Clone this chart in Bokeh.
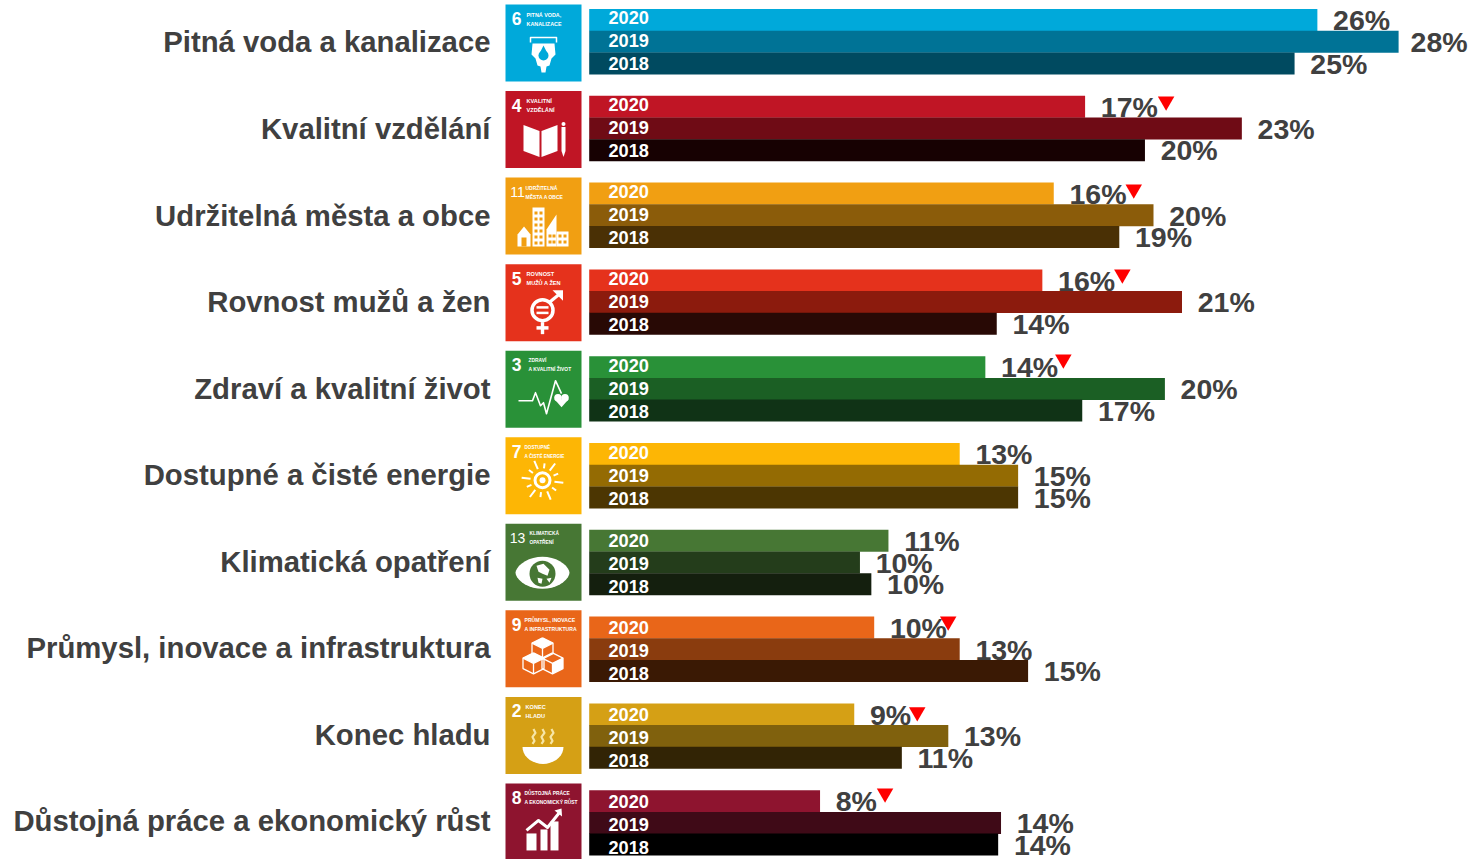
import math
from bokeh.plotting import figure
from bokeh.models import Range1d
from bokeh.core.properties import value
from bokeh.embed import file_html
from bokeh.resources import INLINE

categories = ["Pitná voda a kanalizace", "Kvalitní vzdělání", "Udržitelná města a obce",
              "Rovnost mužů a žen", "Zdraví a kvalitní život", "Dostupné a čisté energie",
              "Klimatická opatření", "Průmysl, inovace a infrastruktura", "Konec hladu",
              "Důstojná práce a ekonomický růst"]
years = ["2020", "2019", "2018"]
values_2020 = [25.55, 17.4, 16.3, 15.9, 13.9, 13.0, 10.5, 10.0, 9.3, 8.1]
values_2019 = [28.4, 22.9, 19.8, 20.8, 20.2, 15.05, 9.5, 13.0, 12.6, 14.45]
values_2018 = [24.75, 19.5, 18.6, 14.3, 17.3, 15.05, 9.9, 15.4, 10.97, 14.35]
labels_2020 = ["26%", "17%", "16%", "16%", "14%", "13%", "11%", "10%", "9%", "8%"]
labels_2019 = ["28%", "23%", "20%", "21%", "20%", "15%", "10%", "13%", "13%", "14%"]
labels_2018 = ["25%", "20%", "19%", "14%", "17%", "15%", "10%", "15%", "11%", "14%"]
decline_2020 = [False, True, True, True, True, False, False, True, True, True]
colors_2020 = ["#00A9DA", "#C01525", "#F19F12", "#E5321C", "#299138", "#FDB605", "#477734", "#E96619", "#D5A015", "#8E142F"]
colors_2019 = ["#007396", "#6F0B15", "#8B5C0A", "#8C1B0D", "#1B5F24", "#946B03", "#243D1B", "#8A3C0E", "#80610D", "#3F0A17"]
colors_2018 = ["#004A60", "#170102", "#4A3005", "#280905", "#103316", "#4C3602", "#141F0E", "#3A1904", "#322405", "#000000"]
icon_numbers = ["6", "4", "11", "5", "3", "7", "13", "9", "2", "8"]
icon_line1 = ["PITNÁ VODA,", "KVALITNÍ", "UDRŽITELNÁ", "ROVNOST", "ZDRAVÍ", "DOSTUPNÉ", "KLIMATICKÁ", "PRŮMYSL, INOVACE", "KONEC", "DŮSTOJNÁ PRÁCE"]
icon_line2 = ["KANALIZACE", "VZDĚLÁNÍ", "MĚSTA A OBCE", "MUŽŮ A ŽEN", "A KVALITNÍ ŽIVOT", "A ČISTÉ ENERGIE", "OPATŘENÍ", "A INFRASTRUKTURA", "HLADU", "A EKONOMICKÝ RŮST"]

# layout in pixels
W, H = 1468, 859
X0, PX = 588.7, 28.5        # px of 0 %, px per 1 %
ROW0, ROWH = 41.2, 86.8     # px of first row centre, px per row
ICON_X, ICON_Y0, ICON_STEP, ICON_W, ICON_H = 505, 4, 86.55, 76, 77
GREY = "#404040"

p = figure(width=W, height=H, output_backend="svg", toolbar_location=None,
           x_axis_location=None, y_axis_location=None, min_border=0,
           x_range=Range1d(-X0 / PX, (W - X0) / PX),
           y_range=Range1d((H - ROW0) / ROWH, -ROW0 / ROWH),
           outline_line_color=None, background_fill_color="white")
p.grid.visible = False
p.extra_x_ranges = {"px": Range1d(0, W)}
p.extra_y_ranges = {"px": Range1d(H, 0)}
p.styles = {"position": "absolute", "left": "0px", "top": "0px"}

rows = list(range(len(categories)))
series = [(values_2020, labels_2020, colors_2020, -0.25),
          (values_2019, labels_2019, colors_2019, 0.0),
          (values_2018, labels_2018, colors_2018, 0.25)]

# value labels go first: the bars cover them where they overlap
for vals, labs, cols, off in series:
    gaps = [12 if l == "28%" else 15.7 for l in labs]
    p.text(x=vals, y=[r + off for r in rows], text=labs, x_offset=gaps, y_offset=0.2,
           text_font=value("Liberation Sans"), text_font_style="bold",
           text_font_size="28.5px", text_color=GREY, text_align="left", text_baseline="middle")

for vals, labs, cols, off in series:
    p.hbar(y=[r + off for r in rows], left=0, right=vals, height=0.254, color=cols, line_color=None)

year_tops = [16.6, 39.6, 62.6]
for top, yr in zip(year_tops, years):
    p.text(x=[608] * len(rows), y=[top + 87.15 * r for r in rows], text=[yr] * len(rows),
           x_range_name="px", y_range_name="px",
           text_font=value("Liberation Sans"), text_font_style="bold", text_font_size="18.2px",
           text_color="white", text_align="left", text_baseline="middle")

p.text(x=[490] * len(rows), y=[41.4 + ICON_STEP * r for r in rows], text=categories,
       x_range_name="px", y_range_name="px",
       text_font=value("Liberation Sans"), text_font_style="bold", text_font_size="29.3px",
       text_color=GREY, text_align="right", text_baseline="middle")

# decline markers
tri_rows = [r for r in rows if decline_2020[r]]
tri_gap = {1: 81, 2: 80, 3: 80, 4: 78, 7: 74, 8: 63, 9: 65}
tri_top = {1: 96, 2: 184, 3: 269, 4: 354, 7: 616, 8: 706.7, 9: 788}
p.scatter(x=[values_2020[r] + tri_gap[r] / PX for r in tri_rows], y=[tri_top[r] + 4.76 for r in tri_rows],
          y_range_name="px", marker="inverted_triangle", size=16.5, color="#FF0000", line_color=None)


# ---- icons: square, number, caption, pictogram ----
def ox(r, u): return ICON_X + u
def oy(r, v): return ICON_Y0 + ICON_STEP * r + v


def poly(r, xs, ys, c="white"):
    p.patch([ox(r, u) for u in xs], [oy(r, v) for v in ys], color=c, line_color=None,
            x_range_name="px", y_range_name="px")


def box(r, u0, v0, u1, v1, c="white"):
    poly(r, [u0, u1, u1, u0], [v0, v0, v1, v1], c)


def path(r, xs, ys, w=2.0, c="white"):
    p.line([ox(r, u) for u in xs], [oy(r, v) for v in ys], line_color=c, line_width=w,
           x_range_name="px", y_range_name="px", line_join="round")


def disc(r, u, v, rad, c="white"):
    p.scatter([ox(r, u)], [oy(r, v)], size=2 * rad, color=c, line_color=None,
              x_range_name="px", y_range_name="px")


def ring(r, u, v, rad, w, c="white"):
    p.scatter([ox(r, u)], [oy(r, v)], size=2 * rad, fill_alpha=0, line_color=c, line_width=w,
              x_range_name="px", y_range_name="px")


for r in rows:
    box(r, 0, 0, ICON_W, ICON_H, colors_2020[r])

cap_x = [21, 21, 20, 21, 23, 19, 24, 19, 20, 19]
cap_size = [5.4, 5.6, 5.0, 5.6, 4.9, 4.6, 4.8, 5.1, 5.6, 4.9]
for r in rows:
    wide = len(icon_numbers[r]) > 1
    p.text([ox(r, 12 if wide else 11)], [oy(r, 14)], text=[icon_numbers[r]], x_range_name="px", y_range_name="px",
           text_font=value("Liberation Sans"), text_font_style="normal" if wide else "bold",
           text_font_size="14px" if wide else "17.5px", text_color="white",
           text_align="center", text_baseline="middle")
    p.text([ox(r, cap_x[r])], [oy(r, 10)], text=[icon_line1[r]], x_range_name="px", y_range_name="px",
           text_font=value("Liberation Sans"), text_font_style="bold", text_font_size=f"{cap_size[r]}px",
           text_color="white", text_align="left", text_baseline="middle")
    p.text([ox(r, cap_x[r])], [oy(r, 19)], text=[icon_line2[r]], x_range_name="px", y_range_name="px",
           text_font=value("Liberation Sans"), text_font_style="bold", text_font_size=f"{cap_size[r]}px",
           text_color="white", text_align="left", text_baseline="middle")

# 6: glass with drop
r = 0
path(r, [25, 25, 51, 51], [38, 33, 33, 38], 1.5)
poly(r, [27, 49, 50, 46, 44, 41, 40, 36, 35, 32, 30, 26],
     [39, 39, 50, 54, 61, 62, 68, 68, 62, 61, 54, 50])
disc(r, 38, 51, 5, colors_2020[r])
poly(r, [34, 38, 42], [49, 41, 49], colors_2020[r])

# 4: open book and pencil
r = 1
poly(r, [18, 34, 34, 18], [34, 40, 66, 60])
poly(r, [36, 52, 52, 36], [40, 34, 60, 66])
box(r, 56, 36, 60, 60)
disc(r, 58, 33, 2)
poly(r, [56, 60, 58], [60, 60, 66])

# 11: city
r = 2
poly(r, [12, 18.5, 25, 25, 12], [57, 49, 57, 69, 69])
box(r, 16, 60, 21, 69, colors_2020[r])
box(r, 27, 30, 39, 69)
for wy in [34, 40, 46, 52, 58, 64]:
    box(r, 29, wy, 32, wy + 3, colors_2020[r])
    box(r, 34, wy, 37, wy + 3, colors_2020[r])
poly(r, [41, 51, 51, 41], [52, 37, 69, 69])
box(r, 51, 54, 63, 69)
for wy in [57, 63]:
    for wx in [43, 47, 53, 58]:
        box(r, wx, wy, wx + 3, wy + 3, colors_2020[r])

# 5: gender equality
r = 3
ring(r, 37, 46, 10.5, 3.5)
box(r, 31, 42, 43, 44.5)
box(r, 31, 47.5, 43, 50)
box(r, 35.3, 58, 38.7, 70)
box(r, 31, 62, 43, 65.5)
path(r, [44, 55], [38, 29], 3.2)
poly(r, [47, 57.5, 57.5], [26, 26, 36.5])

# 3: heartbeat
r = 4
path(r, [13, 27, 30, 35, 38, 41, 50, 56], [50, 50, 42, 55, 52, 63, 30, 43], 1.6)
disc(r, 52.5, 47, 3.8)
disc(r, 59.5, 47, 3.8)
poly(r, [49, 63, 56], [48.5, 48.5, 56.5])

# 7: sun
r = 5
ring(r, 37, 43, 7.5, 3)
disc(r, 37, 43, 3)
for k in range(12):
    a = math.radians(30 * k + 7)
    a0, a1 = (12, 21) if k % 2 == 0 else (12, 17)
    path(r, [37 + a0 * math.cos(a), 37 + a1 * math.cos(a)], [43 + a0 * math.sin(a), 43 + a1 * math.sin(a)], 2.0)

# 13: eye and globe
r = 6
angles = list(range(0, 361, 10))
poly(r, [37 + 27 * math.cos(math.radians(a)) for a in angles],
     [49 + 16 * abs(math.sin(math.radians(a))) ** 1.2 * (1 if a <= 180 else -1) for a in angles])
disc(r, 37, 50, 13, colors_2020[r])
poly(r, [31, 38, 44, 42, 37, 33], [42, 40, 46, 52, 50, 48])
poly(r, [32, 37, 36, 33], [54, 55, 60, 59])
poly(r, [41, 46, 44], [55, 54, 59])

# 9: cubes
r = 7


def cube(r, cx, cy, s, fill_top=False, fill_right=False):
    h = s * 0.5
    xs = [cx, cx + s, cx + s, cx, cx - s, cx - s, cx]
    ys = [cy - s, cy - h, cy + h, cy + s, cy + h, cy - h, cy - s]
    if fill_top:
        poly(r, [cx, cx + s, cx, cx - s], [cy - s, cy - h, cy, cy - h])
    if fill_right:
        poly(r, [cx, cx + s, cx + s, cx], [cy, cy - h, cy + h, cy + s])
    path(r, xs, ys, 1.3)
    path(r, [cx - s, cx, cx + s], [cy - h, cy, cy - h], 1.3)
    path(r, [cx, cx], [cy, cy + s], 1.3)


cube(r, 37, 38, 10.5, fill_top=True)
cube(r, 28, 53, 10.5, fill_top=True)
cube(r, 47, 53, 10.5, fill_right=True)

# 2: bowl with steam
r = 8
arc = list(range(0, 181, 10))
poly(r, [37.5 + 20.5 * math.cos(math.radians(a)) for a in arc],
     [50 + 17 * math.sin(math.radians(a)) for a in arc])
for sx in [28, 37, 46]:
    path(r, [sx, sx + 2, sx - 1, sx + 1, sx - 1], [32, 36, 40, 44, 47], 2.2, "#F7E6A6")

# 8: growth chart
r = 9
box(r, 21, 50, 31, 67)
box(r, 35, 46, 42, 67)
box(r, 45, 38, 53, 67)
path(r, [21, 33, 42, 54], [47, 37, 44, 29], 3)
poly(r, [49, 56, 56.5], [27, 25, 33])

open("out.html", "w").write(file_html(p, INLINE))
